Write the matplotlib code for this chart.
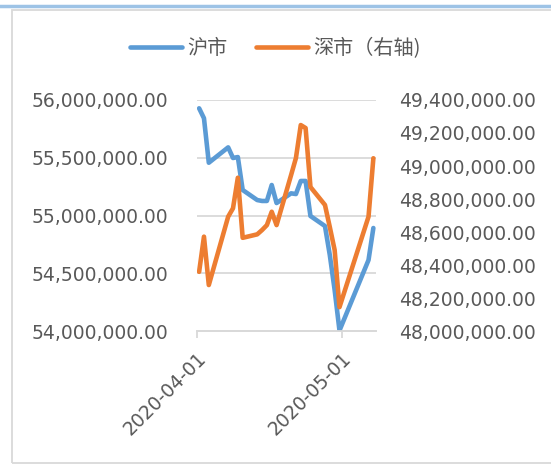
import pandas as pd
import matplotlib
matplotlib.use("Agg")
import matplotlib.pyplot as plt
import matplotlib.dates as mdates
from matplotlib.ticker import FuncFormatter, MultipleLocator
from matplotlib.lines import Line2D
from matplotlib.patches import Rectangle

# trading days, Apr 2020 to early May
dates = ["2020-04-01", "2020-04-02", "2020-04-03", "2020-04-07", "2020-04-08",
         "2020-04-09", "2020-04-10", "2020-04-13", "2020-04-14", "2020-04-15",
         "2020-04-16", "2020-04-17", "2020-04-20", "2020-04-21", "2020-04-22",
         "2020-04-23", "2020-04-24", "2020-04-27", "2020-04-28", "2020-04-29",
         "2020-04-30", "2020-05-06", "2020-05-07"]

# 沪市 (left axis)
sh = [55928000, 55842000, 55457000, 55590000, 55498000, 55506000, 55221000,
      55134000, 55126000, 55126000, 55264000, 55108000, 55192000, 55186000,
      55299000, 55299000, 54996000, 54909000, 54658000, 54355000, 54005000,
      54615000, 54892000]

# 深市 (right axis)
sz = [48359000, 48572000, 48279000, 48693000, 48744000, 48929000, 48565000,
      48586000, 48612000, 48642000, 48723000, 48642000, 48945000, 49048000,
      49248000, 49230000, 48873000, 48764000, 48630000, 48491000, 48145000,
      48693000, 49047000]

labels = ["沪市", "深市（右轴)"]

blue = "#5B9BD5"
orange = "#ED7D31"
txt = "#595959"
grid = "#D9D9D9"

plt.rcParams['font.family'] = ['DejaVu Sans']

# Excel date axis puts points in the middle of the day
x = pd.to_datetime(dates) + pd.Timedelta(hours=12)

fig = plt.figure(figsize=(5.51, 4.65), dpi=100)
ax = fig.add_axes([0.357, 0.288, 0.325, 0.497])
ax2 = ax.twinx()

l1, = ax.plot(x, sh, color=blue, lw=3.3, solid_capstyle='round', solid_joinstyle='round', zorder=3)
l2, = ax2.plot(x, sz, color=orange, lw=3.3, solid_capstyle='round', solid_joinstyle='round', zorder=3)

ax.set_ylim(54000000, 56000000)
ax.yaxis.set_major_locator(MultipleLocator(500000))
ax2.set_ylim(48000000, 49400000)
ax2.yaxis.set_major_locator(MultipleLocator(200000))
fmt = FuncFormatter(lambda v, p: f"{v:,.2f}")
ax.yaxis.set_major_formatter(fmt)
ax2.yaxis.set_major_formatter(fmt)

ax.set_xlim(pd.Timestamp("2020-04-01"), pd.Timestamp("2020-05-08"))
ax.set_xticks([pd.Timestamp("2020-04-01"), pd.Timestamp("2020-05-01")])
ax.xaxis.set_major_formatter(mdates.DateFormatter("%Y-%m-%d"))

ax.grid(axis='y', color=grid, lw=1.3, zorder=0)
ax.set_axisbelow(True)
for a in (ax, ax2):
    for s in ('left', 'right', 'top'):
        a.spines[s].set_visible(False)
    a.spines['bottom'].set_color(grid)
    a.spines['bottom'].set_linewidth(1.3)

ax.tick_params(axis='y', length=0, pad=20.5, labelsize=13.5, labelcolor=txt)
ax2.tick_params(axis='y', length=0, pad=16.5, labelsize=13.5, labelcolor=txt)
ax.tick_params(axis='x', length=5, width=1.3, color=grid, pad=8, labelsize=13.5, labelcolor=txt)
for lab in ax.get_xticklabels():
    lab.set_rotation(45)
    lab.set_ha('right')
    lab.set_va('top')
    lab.set_rotation_mode('anchor')

fig.legend([l1, l2], labels, loc='center', bbox_to_anchor=(0.5, 0.895), ncol=2,
           frameon=False, handlelength=2.6, handletextpad=0.25, columnspacing=1.4,
           prop={'family': ['Noto Sans CJK SC', 'DejaVu Sans'], 'size': 14.5},
           labelcolor=txt)

# chart frame and top bar
fig.patches.append(Rectangle((12 / 551, 2 / 465), 1.2, 453 / 465, transform=fig.transFigure,
                             fill=False, edgecolor=grid, lw=1.3))
fig.lines.append(Line2D([0, 1], [1 - 6 / 465, 1 - 6 / 465], transform=fig.transFigure,
                        color="#9DC3E6", lw=2.5))

fig.savefig("out.png", dpi=100)
